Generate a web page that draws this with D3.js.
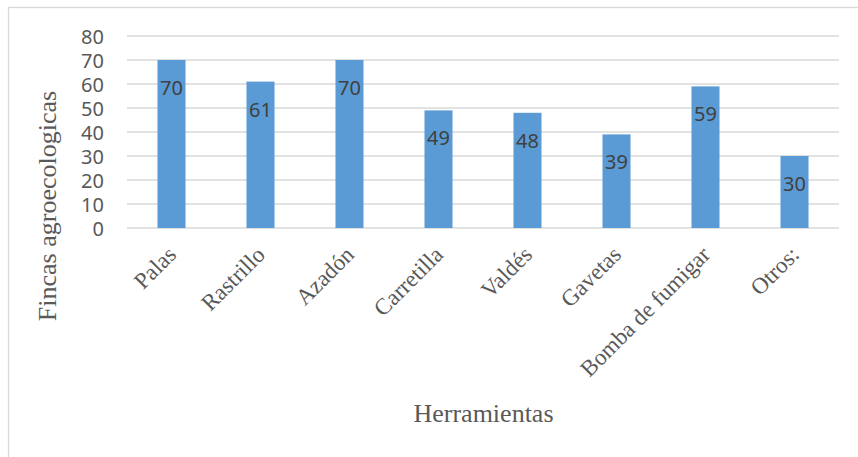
<!DOCTYPE html>
<html>
<head>
<meta charset="utf-8">
<script src="https://cdn.jsdelivr.net/npm/d3@7"></script>
<style>
  html, body { margin: 0; padding: 0; background: #fff; }
  svg { display: block; }
</style>
</head>
<body>
<svg id="chart" width="858" height="457"></svg>
<script>
// Herramientas usadas en las fincas
const categories = ['Palas', 'Rastrillo', 'Azadón', 'Carretilla', 'Valdés', 'Gavetas', 'Bomba de fumigar', 'Otros:'];
const values = [70, 61, 70, 49, 48, 39, 59, 30];
const yTicks = [0, 10, 20, 30, 40, 50, 60, 70, 80];

const width = 858, height = 457;
const plot = { left: 127, right: 839, top: 36, bottom: 228 };

const svg = d3.select('#chart');

// chart border (cut off at right and bottom like the screenshot)
svg.append('rect')
    .attr('x', 8.5).attr('y', 7.5)
    .attr('width', 870).attr('height', 470)
    .attr('fill', 'none')
    .attr('stroke', '#d9d9d9')
    .attr('stroke-width', 1.3);

const x = d3.scaleBand()
    .domain(categories)
    .range([plot.left, plot.right])
    .paddingInner(0.685)
    .paddingOuter(0.3425);

const y = d3.scaleLinear()
    .domain([0, 80])
    .range([plot.bottom, plot.top]);

// gridlines
svg.append('g').selectAll('line').data(yTicks).join('line')
    .attr('x1', plot.left).attr('x2', plot.right)
    .attr('y1', d => y(d)).attr('y2', d => y(d))
    .attr('stroke', '#d9d9d9')
    .attr('stroke-width', 1.3);

// y axis labels
const yAxis = svg.append('g')
    .attr('transform', `translate(${plot.left - 23},0)`)
    .call(d3.axisLeft(y).tickValues(yTicks).tickSize(0).tickPadding(0));
yAxis.select('.domain').remove();
yAxis.selectAll('text')
    .attr('dy', '0.36em')
    .style('font-family', '"Noto Sans", "Open Sans", sans-serif')
    .style('font-size', '20px')
    .style('fill', '#595959');

// bars
svg.append('g').selectAll('rect').data(values).join('rect')
    .attr('x', (d, i) => x(categories[i]))
    .attr('y', d => y(d))
    .attr('width', x.bandwidth())
    .attr('height', d => y(0) - y(d))
    .attr('fill', '#5b9bd5');

// data labels, inside end
svg.append('g').selectAll('text').data(values).join('text')
    .attr('x', (d, i) => x(categories[i]) + x.bandwidth() / 2)
    .attr('y', d => y(d) + 35)
    .attr('text-anchor', 'middle')
    .style('font-family', '"Noto Sans", "Open Sans", sans-serif')
    .style('font-size', '20px')
    .style('fill', '#404040')
    .text(d => d);

// category labels, rotated -45
const xAxis = svg.append('g')
    .attr('transform', `translate(0,${plot.bottom})`)
    .call(d3.axisBottom(x).tickSize(0).tickPadding(0));
xAxis.select('.domain').remove();
xAxis.selectAll('text')
    .attr('text-anchor', 'end')
    .attr('dy', 0)
    .attr('transform', 'translate(6,28) rotate(-45)')
    .style('font-family', '"Liberation Serif", "Times New Roman", serif')
    .style('font-size', '23px')
    .style('fill', '#595959');

// axis titles
svg.append('text')
    .attr('transform', 'translate(56,206) rotate(-90)')
    .attr('text-anchor', 'middle')
    .style('font-family', '"Liberation Serif", "Times New Roman", serif')
    .style('font-size', '26px')
    .style('fill', '#595959')
    .text('Fincas agroecologicas');

svg.append('text')
    .attr('x', 483.5)
    .attr('y', 422)
    .attr('text-anchor', 'middle')
    .style('font-family', '"Liberation Serif", "Times New Roman", serif')
    .style('font-size', '26px')
    .style('fill', '#595959')
    .text('Herramientas');
</script>
</body>
</html>
